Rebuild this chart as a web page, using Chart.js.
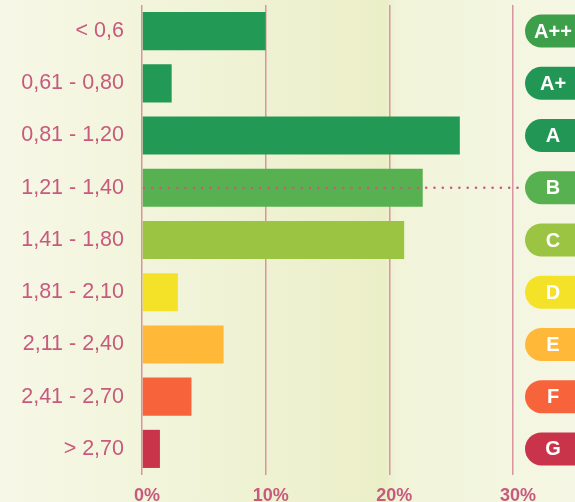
<!DOCTYPE html>
<html>
<head>
<meta charset="utf-8">
<script src="https://cdn.jsdelivr.net/npm/chart.js@4/dist/chart.umd.min.js"></script>
<style>
  body { margin: 0; background: #f5f6e2; }
  #chart { display: block; }
</style>
</head>
<body>
<canvas id="chart" width="575" height="502"></canvas>
<script>
// data
var categories = ["< 0,6", "0,61 - 0,80", "0,81 - 1,20", "1,21 - 1,40", "1,41 - 1,80",
  "1,81 - 2,10", "2,11 - 2,40", "2,41 - 2,70", "> 2,70"];
var shares = [10.0, 2.4, 25.7, 22.7, 21.2, 2.9, 6.6, 4.0, 1.45];
var classes = ["A++", "A+", "A", "B", "C", "D", "E", "F", "G"];
var xTicks = [0, 10, 20, 30];
var highlightIndex = 3;

// colours
var barColors = ["#229a55", "#229a55", "#229a55", "#58b151", "#9ac441",
  "#f4e228", "#ffb838", "#f7643c", "#c9344a"];
var badgeColors = ["#3d9f4a", "#229755", "#229755", "#58b151", "#9ac441",
  "#f4e228", "#ffb838", "#f7643c", "#c9344a"];
var pink = "#c75a7d";

var FONT = "'Liberation Sans', Arial, Helvetica, sans-serif";

// tlo z gradientem
var bgPlugin = {
  id: "bg",
  beforeDraw: function(chart) {
    var ctx = chart.ctx;
    var g = ctx.createLinearGradient(0, 0, chart.width, 0);
    g.addColorStop(0, "#f7f7e7");
    g.addColorStop(0.3, "#f1f4d9");
    g.addColorStop(0.67, "#ebefc8");
    g.addColorStop(0.69, "#f1f4d9");
    g.addColorStop(1, "#f5f7e4");
    ctx.save();
    ctx.fillStyle = g;
    ctx.fillRect(0, 0, chart.width, chart.height);
    ctx.restore();
  }
};

// kropkowana linia + etykiety klas
var badgePlugin = {
  id: "badges",
  afterDatasetsDraw: function(chart) {
    var ctx = chart.ctx;
    var y = chart.scales.y;
    var area = chart.chartArea;
    var badgeX = 525;

    ctx.save();
    // dotted line
    var yy = y.getPixelForValue(highlightIndex);
    ctx.strokeStyle = pink;
    ctx.lineWidth = 2.6;
    ctx.lineCap = "round";
    ctx.setLineDash([0, 8.3]);
    ctx.beginPath();
    ctx.moveTo(area.left + 2, yy);
    ctx.lineTo(badgeX, yy);
    ctx.stroke();
    ctx.setLineDash([]);

    // badges
    ctx.font = "bold 20px " + FONT;
    ctx.textAlign = "center";
    ctx.textBaseline = "middle";
    for (var i = 0; i < classes.length; i++) {
      var cy = y.getPixelForValue(i);
      ctx.fillStyle = badgeColors[i];
      ctx.beginPath();
      ctx.roundRect(badgeX, cy - 16.5, 80, 33, 16.5);
      ctx.fill();
      ctx.fillStyle = "#ffffff";
      ctx.fillText(classes[i], 553, cy + 1);
    }
    ctx.restore();
  }
};

var chart = new Chart(document.getElementById("chart"), {
  type: "bar",
  data: {
    labels: categories,
    datasets: [{
      data: shares,
      backgroundColor: barColors,
      borderWidth: 0,
      barPercentage: 0.73,
      categoryPercentage: 1
    }]
  },
  options: {
    indexAxis: "y",
    responsive: false,
    animation: false,
    devicePixelRatio: 1,
    layout: { padding: { top: 5, right: 62, left: 0, bottom: 0 } },
    plugins: {
      legend: { display: false },
      tooltip: { enabled: false }
    },
    scales: {
      x: {
        min: xTicks[0],
        max: xTicks[xTicks.length - 1],
        afterBuildTicks: function(scale) {
          scale.ticks = xTicks.map(function(v) { return { value: v }; });
        },
        afterFit: function(scale) { scale.height = 27; },
        grid: { color: "#d8949f", lineWidth: 1.5, drawTicks: false },
        border: { display: false },
        ticks: {
          padding: 10,
          labelOffset: 5,
          color: pink,
          font: { family: FONT, size: 18, weight: "bold" },
          callback: function(v) { return v + "%"; }
        }
      },
      y: {
        afterFit: function(scale) {
          scale.width = 142;
          scale.paddingTop = 0;
          scale.paddingBottom = 0;
        },
        grid: { display: false },
        border: { display: false },
        ticks: {
          padding: 10,
          color: pink,
          font: { family: FONT, size: 21.5 }
        }
      }
    }
  },
  plugins: [bgPlugin, badgePlugin]
});
</script>
</body>
</html>
